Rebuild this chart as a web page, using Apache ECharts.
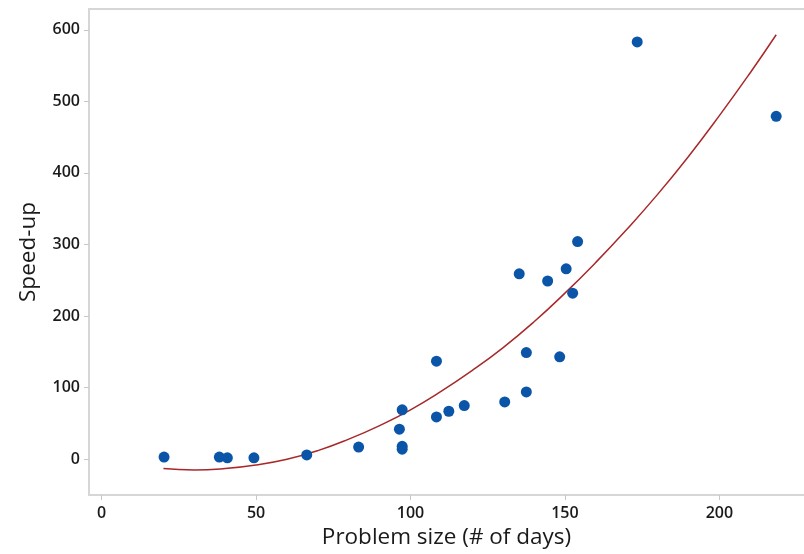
<!DOCTYPE html>
<html>
<head>
<meta charset="utf-8">
<script src="https://cdn.jsdelivr.net/npm/echarts@6/dist/echarts.min.js"></script>
<style>
  html, body { margin: 0; padding: 0; background: #fff; }
  #main { width: 804px; height: 554px; }
</style>
</head>
<body>
<div id="main"></div>
<script>
// observed points: problem size (days) vs speed-up
var sizeDays = [20.2, 38.1, 40.7, 49.3, 66.4, 83.2, 96.4, 97.3, 97.3, 97.3, 108.4, 108.4, 112.4,
    117.4, 130.5, 135.2, 137.5, 137.5, 144.4, 148.3, 150.4, 152.5, 154.1, 173.4, 218.4];
var speedUp = [3, 3, 2, 2, 6, 17, 42, 69, 18, 14, 137, 59, 67,
    75, 80, 259, 149, 94, 249, 143, 266, 232, 304, 583, 479];

// fitted curve
var fitX = [20, 30, 40, 50, 60, 70, 80, 90, 100, 110, 120, 130, 140, 150, 160, 170, 180, 190, 200, 210, 218.4];
var fitY = [-13, -15, -13, -8, 0, 12, 28, 47, 69, 95, 124, 156, 192, 232, 275, 321, 370, 423, 480, 540, 593];

var xTicks = [0, 50, 100, 150, 200];
var yTicks = [0, 100, 200, 300, 400, 500, 600];

var pts = [];
for (var i = 0; i < sizeDays.length; i++) {
    pts.push([sizeDays[i], speedUp[i]]);
}
var fit = [];
for (var j = 0; j < fitX.length; j++) {
    fit.push([fitX[j], fitY[j]]);
}

var labelFont = {
    color: "#1a1a1a",
    fontFamily: "Open Sans",
    fontWeight: 600,
    fontSize: 16
};
var nameFont = { color: "#1a1a1a", fontFamily: "Open Sans", fontSize: 22.5 };
var frameLine = { show: true, onZero: false, lineStyle: { color: "#d6d6d6", width: 2 } };

var chart = echarts.init(document.getElementById("main"), null, { renderer: "canvas" });
chart.setOption({
    animation: false,
    backgroundColor: "#fff",
    grid: { left: 89, top: 9, right: 0, bottom: 59 },
    xAxis: [{
        type: "value",
        min: -4.1,
        max: 227.4,
        name: "Problem size (# of days)",
        nameLocation: "middle",
        nameGap: 31,
        nameTextStyle: nameFont,
        axisLine: frameLine,
        axisTick: { show: true, length: 5, customValues: xTicks, lineStyle: { color: "#c8c8c8" } },
        axisLabel: Object.assign({ customValues: xTicks, margin: 10 }, labelFont),
        splitLine: { show: false }
    }, {
        // top frame line only
        type: "value",
        position: "top",
        min: -4.1,
        max: 227.4,
        axisLine: frameLine,
        axisTick: { show: false },
        axisLabel: { show: false },
        splitLine: { show: false }
    }],
    yAxis: {
        type: "value",
        min: -50,
        max: 629,
        name: "Speed-up",
        nameLocation: "middle",
        nameGap: 49,
        nameTextStyle: nameFont,
        axisLine: frameLine,
        axisTick: { show: true, length: 5, customValues: yTicks, lineStyle: { color: "#c8c8c8" } },
        axisLabel: Object.assign({ customValues: yTicks, margin: 9 }, labelFont),
        splitLine: { show: false }
    },
    series: [{
        type: "line",
        data: fit,
        smooth: true,
        symbol: "none",
        lineStyle: { color: "#a8282a", width: 1.5 },
        z: 2
    }, {
        type: "scatter",
        data: pts,
        symbolSize: 11,
        itemStyle: { color: "#0b55a8", opacity: 1 },
        z: 3
    }]
});
</script>
</body>
</html>
